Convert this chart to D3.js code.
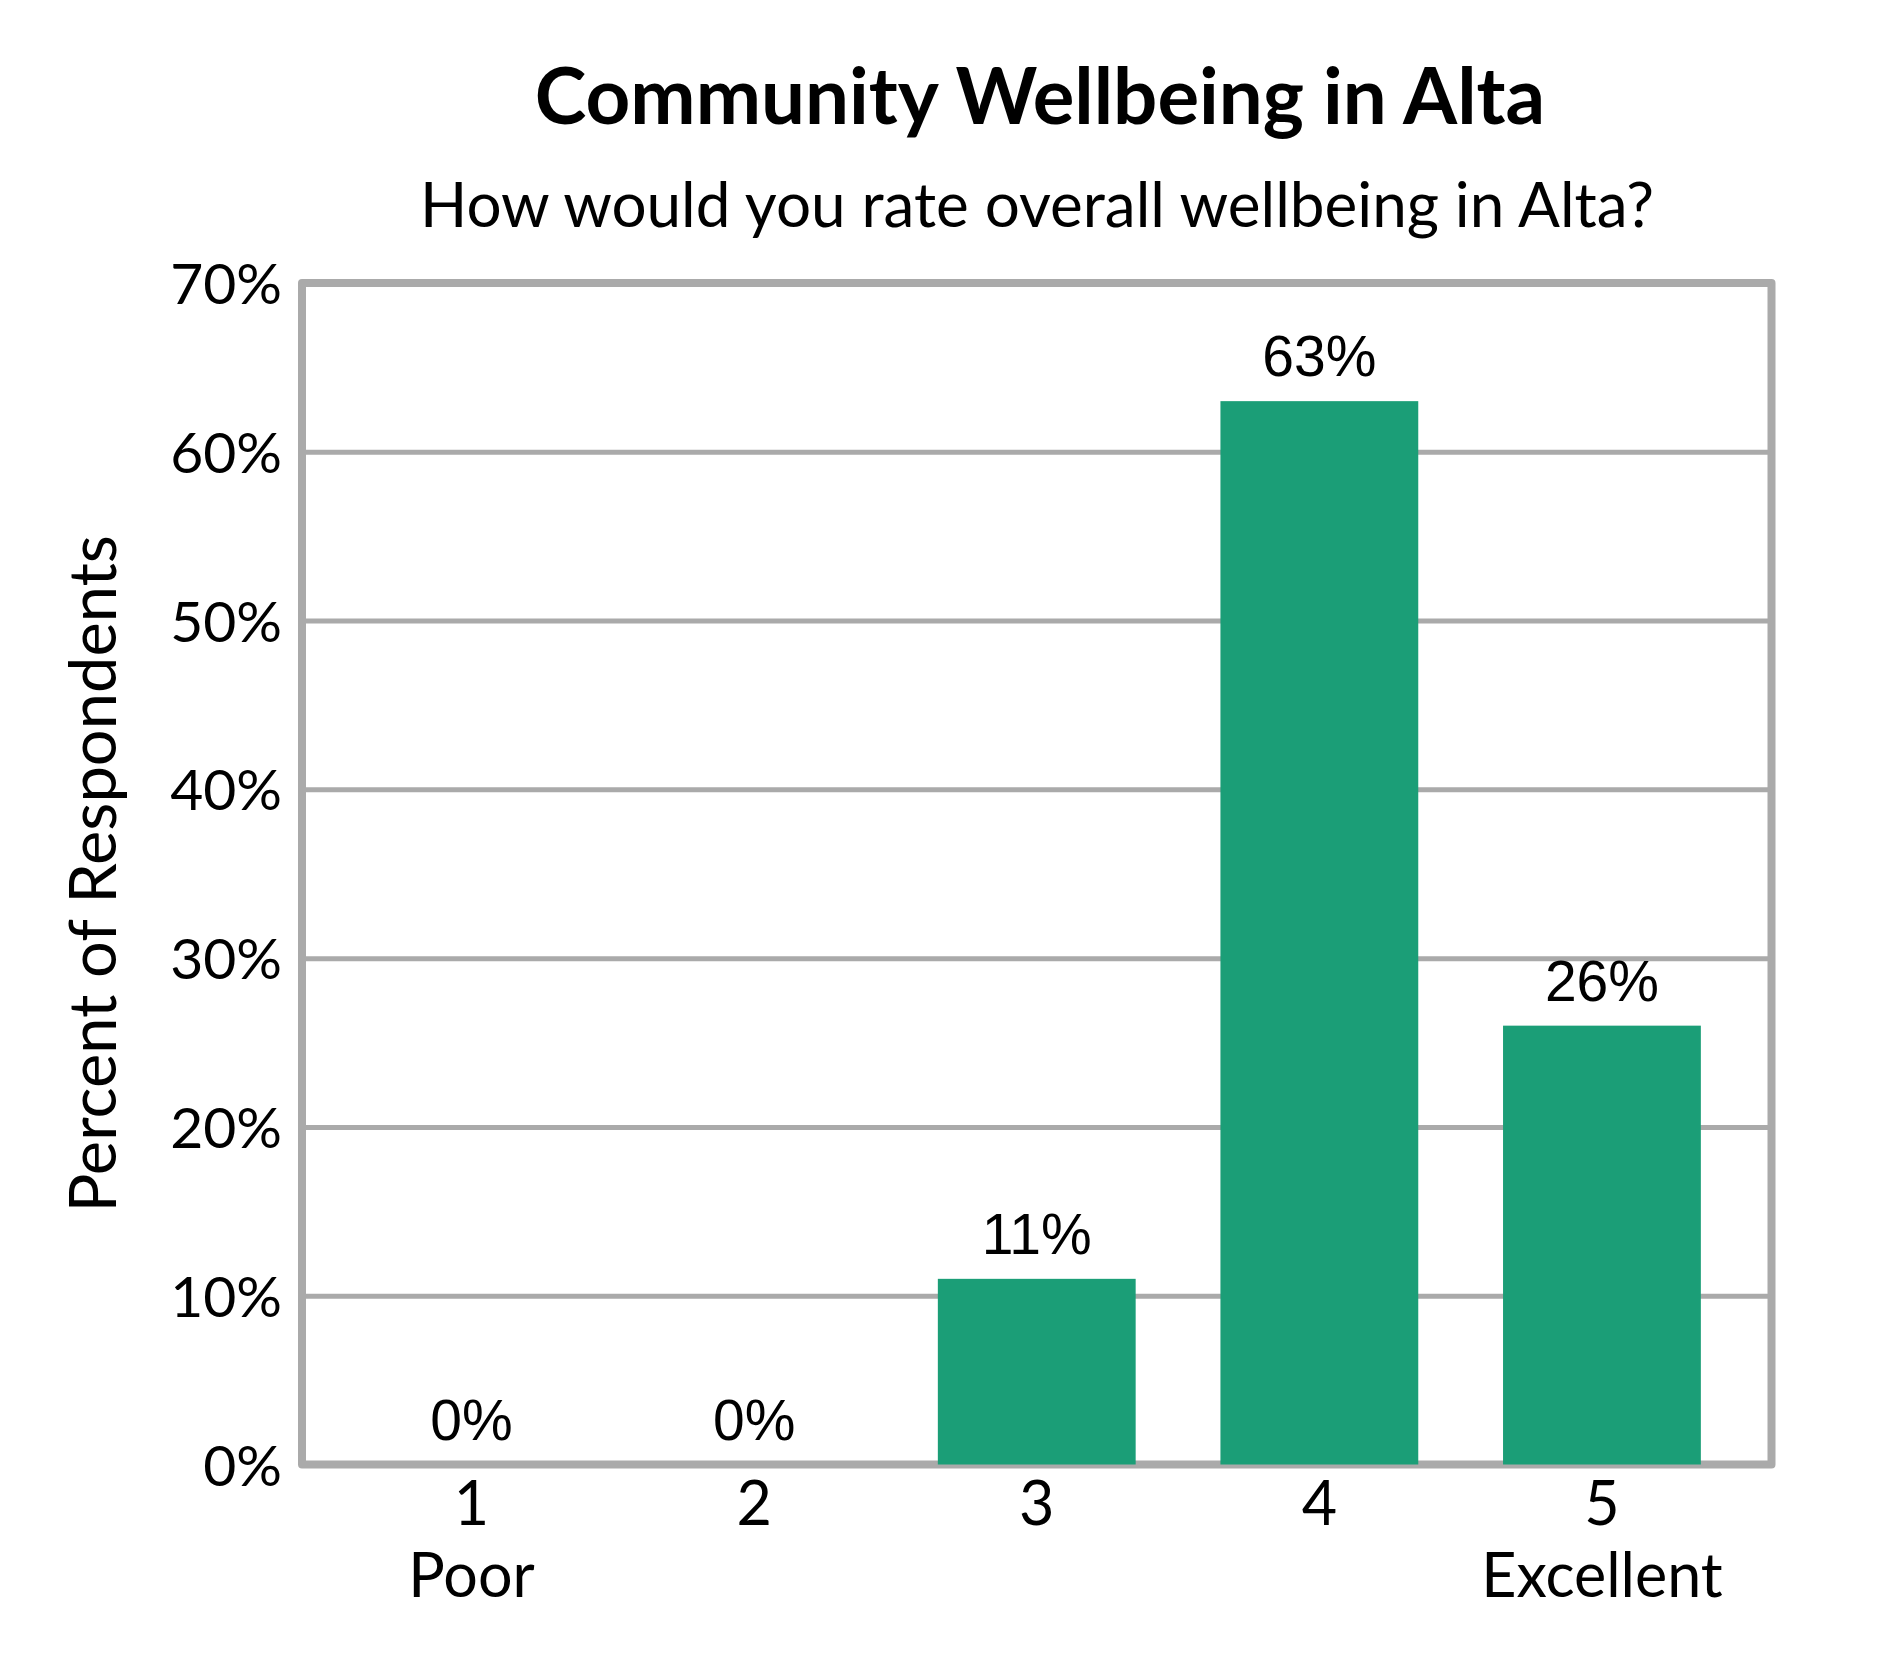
<!DOCTYPE html>
<html>
<head>
<meta charset="utf-8">
<script src="https://cdn.jsdelivr.net/npm/d3@7"></script>
<style>
  html, body { margin: 0; padding: 0; background: #fff; overflow: hidden; }
  svg { display: block; }
</style>
</head>
<body>
<svg id="chart" width="1890" height="1680" viewBox="0 0 1890 1680"></svg>
<script>
// data
const ratings = ["1", "2", "3", "4", "5"];
const ratingNames = ["Poor", "", "", "", "Excellent"];
const percents = [0, 0, 11, 63, 26];
const yTicks = [0, 10, 20, 30, 40, 50, 60, 70];

const titleText = "Community Wellbeing in Alta";
const subtitleText = "How would you rate overall wellbeing in Alta?";
const yTitleText = "Percent of Respondents";

const width = 1890;
const height = 1680;
const margin = { top: 283, right: 118.5, bottom: 215.5, left: 302 };
const innerWidth = width - margin.left - margin.right;
const innerHeight = height - margin.top - margin.bottom;

const calibriLike = "Lato, 'Open Sans', sans-serif";
const arialLike = "'Liberation Sans', Arial, sans-serif";
const barColor = "#1b9e77";
const lineColor = "#aaaaaa";

const svg = d3.select("#chart");
svg.append("rect").attr("width", width).attr("height", height).attr("fill", "#fff");

const g = svg.append("g")
  .attr("transform", `translate(${margin.left},${margin.top})`);

// scales
const x = d3.scaleBand()
  .domain(ratings)
  .range([0, innerWidth])
  .paddingInner(0.3)
  .paddingOuter(0.25);

const y = d3.scaleLinear()
  .domain([0, d3.max(yTicks)])
  .range([innerHeight, 0]);

// gridlines + tick labels
const yAxis = d3.axisLeft(y)
  .tickValues(yTicks)
  .tickSize(-innerWidth)
  .tickPadding(20)
  .tickFormat(d => d + "%");

const yG = g.append("g").call(yAxis);
yG.select(".domain").remove();
yG.selectAll(".tick line")
  .attr("stroke", lineColor)
  .attr("stroke-width", 5);
yG.selectAll(".tick text")
  .attr("fill", "#000")
  .attr("dy", "0.36em")
  .style("font-family", calibriLike)
  .style("font-size", "57px");

// plot border
g.append("rect")
  .attr("x", 0)
  .attr("y", 0)
  .attr("width", innerWidth)
  .attr("height", innerHeight)
  .attr("fill", "none")
  .attr("stroke", lineColor)
  .attr("stroke-width", 8)
  .attr("stroke-linejoin", "round");

// bars
const data = ratings.map((r, i) => ({ rating: r, name: ratingNames[i], value: percents[i] }));

g.selectAll(".bar")
  .data(data)
  .join("rect")
  .attr("class", "bar")
  .attr("x", d => x(d.rating))
  .attr("y", d => y(d.value))
  .attr("width", x.bandwidth())
  .attr("height", d => innerHeight - y(d.value))
  .attr("fill", barColor);

// value labels
g.selectAll(".value")
  .data(data)
  .join("text")
  .attr("class", "value")
  .attr("x", d => x(d.rating) + x.bandwidth() / 2)
  .attr("y", d => y(d.value) - 25)
  .attr("text-anchor", "middle")
  .style("font-family", arialLike)
  .style("font-size", "57px")
  .text(d => d.value + "%");

// x axis labels (number + name underneath)
const xAxis = d3.axisBottom(x).tickSize(0).tickPadding(0);
const xG = g.append("g")
  .attr("transform", `translate(0,${innerHeight})`)
  .call(xAxis);
xG.select(".domain").remove();
xG.selectAll(".tick text").each(function (d, i) {
  const t = d3.select(this)
    .text(null)
    .attr("y", 0)
    .attr("dy", null)
    .attr("fill", "#000")
    .style("font-family", calibriLike)
    .style("font-size", "61px");
  t.append("tspan").attr("x", 0).attr("y", 60.5).text(d);
  t.append("tspan").attr("x", 0).attr("y", 132).text(ratingNames[i]);
});

// titles
svg.append("text")
  .attr("x", 1040)
  .attr("y", 124)
  .attr("text-anchor", "middle")
  .style("font-family", calibriLike)
  .style("font-weight", "bold")
  .style("font-size", "78px")
  .text(titleText);

svg.append("text")
  .attr("x", 1037)
  .attr("y", 227)
  .attr("text-anchor", "middle")
  .style("font-family", calibriLike)
  .style("font-size", "62px")
  .text(subtitleText);

svg.append("text")
  .attr("transform", `translate(116,${margin.top + innerHeight / 2}) rotate(-90)`)
  .attr("text-anchor", "middle")
  .style("font-family", calibriLike)
  .style("font-size", "65px")
  .text(yTitleText);
</script>
</body>
</html>
